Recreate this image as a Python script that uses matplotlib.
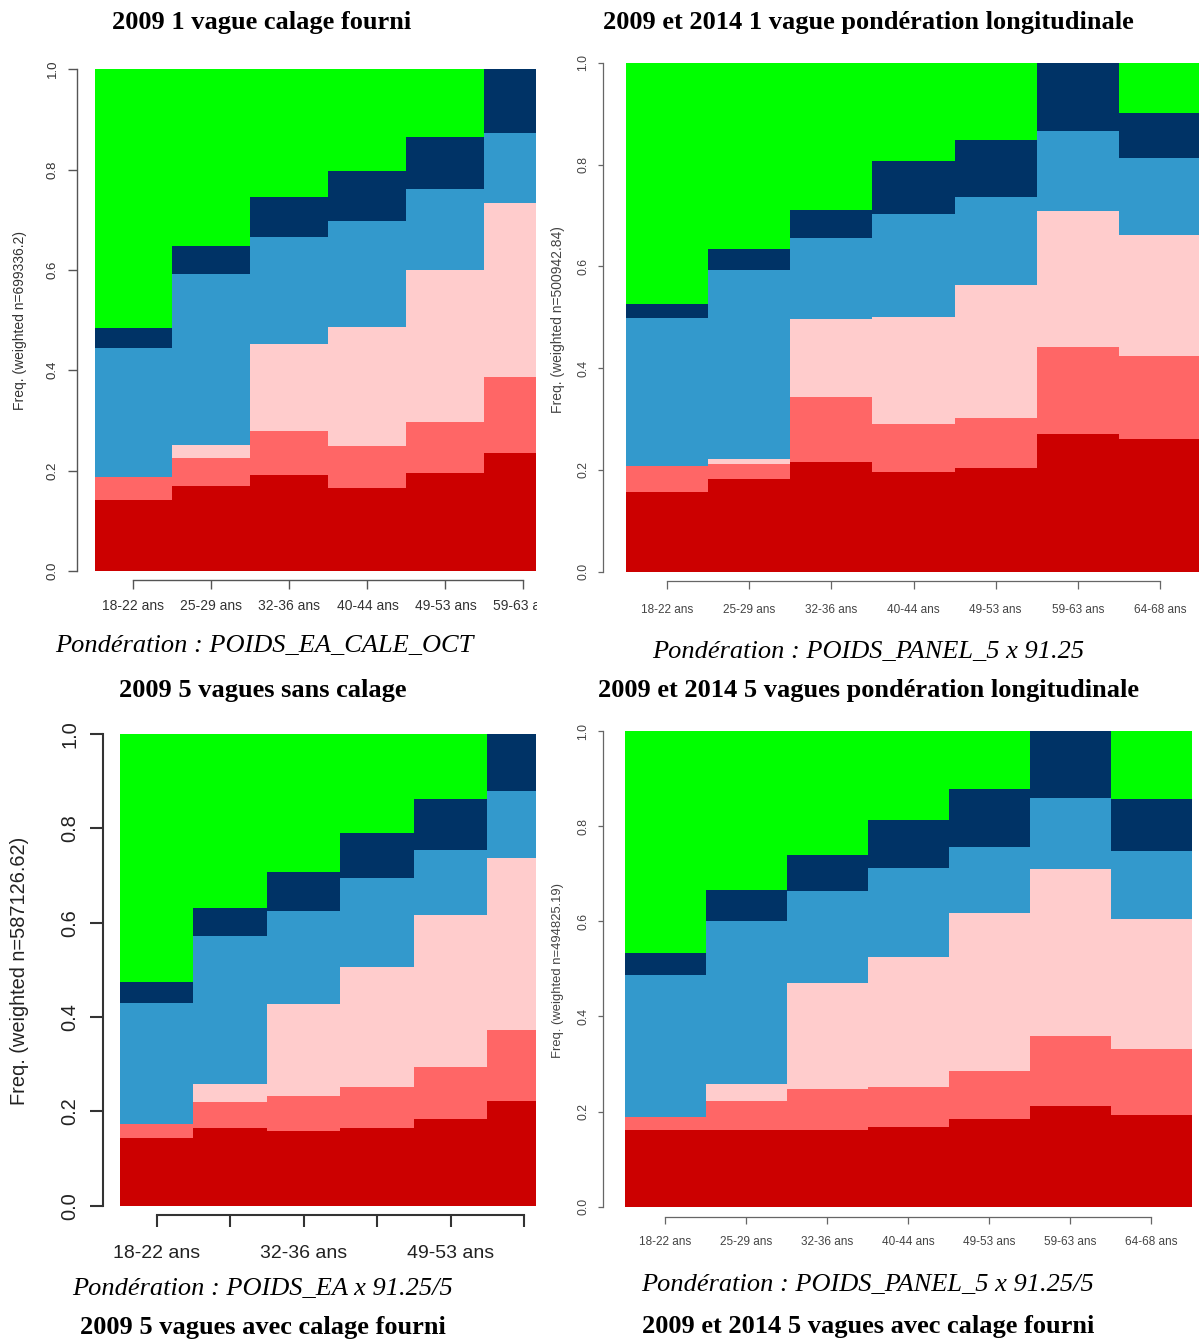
import matplotlib
matplotlib.use('Agg')
import matplotlib.pyplot as plt
import numpy as np
from matplotlib import font_manager
from matplotlib.transforms import Bbox, TransformedBbox

W, H = 1199, 1342

# age groups (x axis)
ages = ['18-22 ans', '25-29 ans', '32-36 ans', '40-44 ans', '49-53 ans', '59-63 ans', '64-68 ans']

# colours of the 6 levels, bottom to top
colors = ['#CC0000', '#FF6666', '#FFCCCC', '#3399CC', '#003366', '#00FF00']

# shares per level (bottom -> top), one value per age group
# panel 1 : 2009 1 vague calage fourni
p1_red    = [0.141, 0.170, 0.191, 0.165, 0.196, 0.235]
p1_salmon = [0.046, 0.055, 0.087, 0.085, 0.100, 0.151]
p1_pink   = [0.000, 0.027, 0.175, 0.237, 0.304, 0.347]
p1_blue   = [0.258, 0.340, 0.212, 0.211, 0.162, 0.139]
p1_navy   = [0.040, 0.056, 0.080, 0.099, 0.103, 0.128]
p1_green  = [0.515, 0.352, 0.255, 0.203, 0.135, 0.000]

# panel 2 : 2009 et 2014 1 vague ponderation longitudinale
p2_red    = [0.156, 0.182, 0.216, 0.197, 0.204, 0.270, 0.261]
p2_salmon = [0.051, 0.030, 0.128, 0.093, 0.099, 0.172, 0.163]
p2_pink   = [0.000, 0.009, 0.153, 0.211, 0.261, 0.266, 0.237]
p2_blue   = [0.292, 0.372, 0.158, 0.202, 0.172, 0.158, 0.151]
p2_navy   = [0.027, 0.041, 0.056, 0.105, 0.113, 0.134, 0.090]
p2_green  = [0.474, 0.366, 0.289, 0.192, 0.151, 0.000, 0.098]

# panel 3 : 2009 5 vagues sans calage
p3_red    = [0.143, 0.165, 0.158, 0.165, 0.184, 0.222]
p3_salmon = [0.031, 0.054, 0.075, 0.087, 0.110, 0.151]
p3_pink   = [0.000, 0.040, 0.194, 0.253, 0.322, 0.365]
p3_blue   = [0.256, 0.312, 0.197, 0.189, 0.139, 0.142]
p3_navy   = [0.045, 0.061, 0.083, 0.095, 0.107, 0.120]
p3_green  = [0.525, 0.368, 0.293, 0.211, 0.138, 0.000]

# panel 4 : 2009 et 2014 5 vagues ponderation longitudinale
p4_red    = [0.161, 0.162, 0.161, 0.168, 0.184, 0.212, 0.193]
p4_salmon = [0.027, 0.060, 0.086, 0.084, 0.101, 0.147, 0.139]
p4_pink   = [0.000, 0.036, 0.224, 0.274, 0.332, 0.351, 0.274]
p4_blue   = [0.299, 0.342, 0.194, 0.187, 0.140, 0.150, 0.142]
p4_navy   = [0.046, 0.066, 0.074, 0.101, 0.121, 0.140, 0.110]
p4_green  = [0.467, 0.334, 0.261, 0.186, 0.122, 0.000, 0.142]

yticks = [0.0, 0.2, 0.4, 0.6, 0.8, 1.0]
ytick_labels = ['0.0', '0.2', '0.4', '0.6', '0.8', '1.0']

sans = ['Liberation Sans', 'DejaVu Sans']
serif = ['Liberation Serif', 'DejaVu Serif']
plt.rcParams['font.family'] = sans

names = {f.name for f in font_manager.fontManager.ttflist}
if 'Liberation Sans Narrow' in names:
    narrow, narrow_size = ['Liberation Sans Narrow'] + sans, 10
else:
    narrow, narrow_size = sans, 8.5

fig = plt.figure(figsize=(W / 100, H / 100), dpi=100)
fig.patch.set_facecolor('white')


def px(x, y):
    return x / W, 1 - y / H


def panel(shares, box, xmax, ylab, st):
    left, top, right, bottom = box
    ax = fig.add_axes([left / W, 1 - bottom / H, (right - left) / W, (bottom - top) / H])
    n = len(shares[0])
    x = np.arange(n)
    base = np.zeros(n)
    for vals, col in zip(shares, colors):
        vals = np.asarray(vals, dtype=float)
        ax.bar(x, vals, bottom=base, width=1.0, align='edge', color=col,
               linewidth=0, antialiased=False)
        base += vals
    ax.set_xlim(0, xmax)
    ax.set_ylim(0, 1)
    ax.set_facecolor('white')

    for s in ('top', 'right'):
        ax.spines[s].set_visible(False)
    for s in ('left', 'bottom'):
        ax.spines[s].set_color(st['axcol'])
        ax.spines[s].set_linewidth(st['lw'])
    ax.spines['left'].set_position(('outward', st['off_y'] * 0.72))
    ax.spines['left'].set_bounds(0, 1)
    ax.spines['bottom'].set_position(('outward', st['off_x'] * 0.72))
    ax.spines['bottom'].set_bounds(0.5, n - 0.5)

    ax.set_yticks(yticks)
    ax.set_yticklabels(ytick_labels)
    ax.set_xticks(x + 0.5)
    ax.set_xticklabels(st.get('xlabels', ages[:n]))

    ax.tick_params(axis='y', length=st['ylen'], width=st['lw'], color=st['axcol'],
                   pad=st['ypad'], labelsize=st['ysize'], labelcolor=st['txtcol'],
                   labelrotation=90)
    ax.tick_params(axis='x', length=st['xlen'], width=st['lw'], color=st['axcol'],
                   pad=st['xpad'], labelsize=st['xsize'], labelcolor=st['txtcol'])
    for lbl in ax.get_yticklabels():
        lbl.set_va('center')
    for lbl in ax.get_xticklabels():
        lbl.set_fontfamily(st.get('xfamily', sans))
        if 'clip' in st:
            lbl.set_clip_box(TransformedBbox(Bbox.from_extents(0, 0, st['clip'] / W, 1),
                                             fig.transFigure))
            lbl.set_clip_on(True)

    ax.set_ylabel(ylab, fontsize=st['labsize'], color=st['txtcol'])
    ax.yaxis.label.set_va('center')
    ax.yaxis.set_label_coords(*px(*st['labpos']), transform=fig.transFigure)
    return ax


def heading(x, y, s, italic=False):
    fig.text(*px(x, y), s, ha='center', va='baseline', fontsize=19, family=serif,
             fontweight='normal' if italic else 'bold',
             fontstyle='italic' if italic else 'normal', color='black')


st1 = dict(axcol='#555555', txtcol='#333333', lw=1.0, off_y=18, off_x=9.3,
           ylen=9 * 0.72, xlen=9 * 0.72, ypad=6.3, xpad=7.3, ysize=9.5, xsize=10,
           labsize=10, labpos=(19.7, 321), clip=536.5)
panel([p1_red, p1_salmon, p1_pink, p1_blue, p1_navy, p1_green],
      (94.5, 69.2, 535.8, 571.0), 5.658, 'Freq. (weighted n=699336.2)', st1)

st2 = dict(axcol='#666666', txtcol='#444444', lw=0.9, off_y=23.2, off_x=9.4,
           ylen=5.5 * 0.72, xlen=7.7 * 0.72, ypad=5.8, xpad=10.6, ysize=8.8,
           xsize=narrow_size, xfamily=narrow, labsize=10, labpos=(557.8, 319.5))
panel([p2_red, p2_salmon, p2_pink, p2_blue, p2_navy, p2_green],
      (626.2, 62.8, 1199.0, 571.8), 6.977, 'Freq. (weighted n=500942.84)', st2)

st3 = dict(axcol='#333333', txtcol='#222222', lw=1.5, off_y=17.2, off_x=9.4,
           ylen=12.6 * 0.72, xlen=12 * 0.72, ypad=7.8, xpad=12.8, ysize=14.4,
           xsize=14, labsize=14.4, labpos=(19.7, 971), clip=536.5,
           xlabels=[a if i % 2 == 0 else '' for i, a in enumerate(ages[:6])])
panel([p3_red, p3_salmon, p3_pink, p3_blue, p3_navy, p3_green],
      (119.8, 733.9, 535.8, 1205.8), 5.660, 'Freq. (weighted n=587126.62)', st3)

st4 = dict(axcol='#666666', txtcol='#444444', lw=0.9, off_y=21.9, off_x=9.9,
           ylen=5.5 * 0.72, xlen=7.3 * 0.72, ypad=5.8, xpad=8.5, ysize=8.8,
           xsize=narrow_size, xfamily=narrow, labsize=9.4, labpos=(557.8, 970))
panel([p4_red, p4_salmon, p4_pink, p4_blue, p4_navy, p4_green],
      (624.9, 731.3, 1191.5, 1206.6), 7.0, 'Freq. (weighted n=494825.19)', st4)

heading(262, 29, '2009 1 vague calage fourni')
heading(264, 651.7, 'Pondération : POIDS_EA_CALE_OCT', italic=True)
heading(868, 29, '2009 et 2014 1 vague pondération longitudinale')
heading(868, 658, 'Pondération : POIDS_PANEL_5 x 91.25', italic=True)
heading(262.5, 696.6, '2009 5 vagues sans calage')
heading(262.7, 1294.5, 'Pondération : POIDS_EA x 91.25/5', italic=True)
heading(262.7, 1334.4, '2009 5 vagues avec calage fourni')
heading(868, 696.6, '2009 et 2014 5 vagues pondération longitudinale')
heading(868, 1291.5, 'Pondération : POIDS_PANEL_5 x 91.25/5', italic=True)
heading(867.7, 1333.5, '2009 et 2014 5 vagues avec calage fourni')

fig.savefig('out.png', dpi=100, facecolor='white')
